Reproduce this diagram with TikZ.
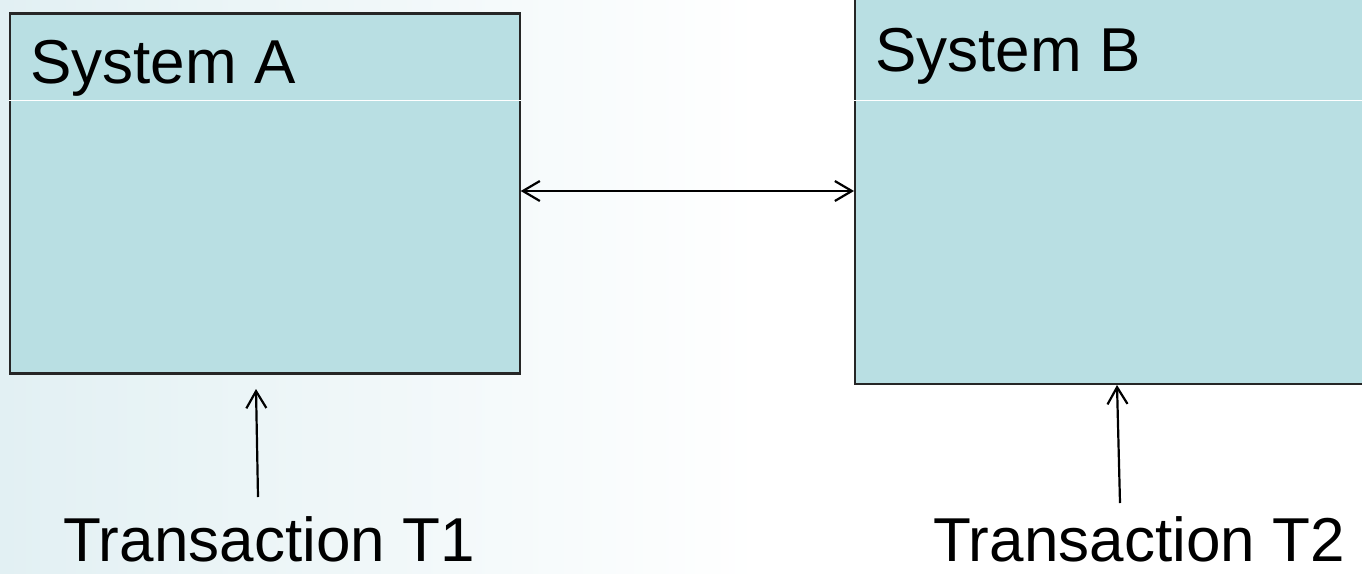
\documentclass[tikz,border=0pt]{standalone}
\usepackage{fontspec}
\setmainfont{Liberation Sans}
\usetikzlibrary{arrows.meta}
\definecolor{boxfill}{RGB}{185,223,227}
\definecolor{bgl}{RGB}{226,240,243}
\tikzset{
  sysbox/.style={draw=black!85, line width=2.2pt, fill=boxfill, inner sep=0pt, anchor=north west},
  divider/.style={white, line width=1pt},
  bigtext/.style={font=\fontsize{62}{74}\selectfont, inner sep=0pt},
  conn/.style={black, line width=2.2pt, >={Straight Barb[length=17pt,width=20pt,line width=2.2pt]}},
}
\begin{document}
\begin{tikzpicture}[x=1pt,y=-1pt]
\useasboundingbox (0,0) rectangle (1362,573);
\shade[left color=bgl, right color=white] (0,0) rectangle (760,573);
% boxes
\node[sysbox, minimum width=510pt, minimum height=360pt] (A) at (8.5,12.3) {};
\node[sysbox, minimum width=530pt, minimum height=395pt] (B) at (854,-12) {};
\draw[divider] (A.west |- 0,100) coordinate (a1) -- (A.east |- 0,100) coordinate (a2);
\draw[divider] (B.west |- 0,100) coordinate (b1) -- (1362,100) coordinate (b2);
% titles
\node[bigtext, anchor=base west] (ta) at (30,83) {System A};
\node[bigtext, anchor=base west] (tb) at (875,71) {System B};
% transactions
\node[bigtext, anchor=base] (t1) at (269,561) {Transaction T1};
\node[bigtext, anchor=base] (t2) at (1139,561) {Transaction T2};
% connectors
\draw[conn, <->] (A.east |- 0,191) coordinate (ae) -- (B.west |- 0,191) coordinate (bw);
\coordinate (t1s) at (258,497);
\coordinate (t1e) at (256,389);
\coordinate (t2s) at (1120,503);
\coordinate (t2e) at (1117,385);
\draw[conn, ->] (t1s) -- (t1e);
\draw[conn, ->] (t2s) -- (t2e);
\end{tikzpicture}
\end{document}
